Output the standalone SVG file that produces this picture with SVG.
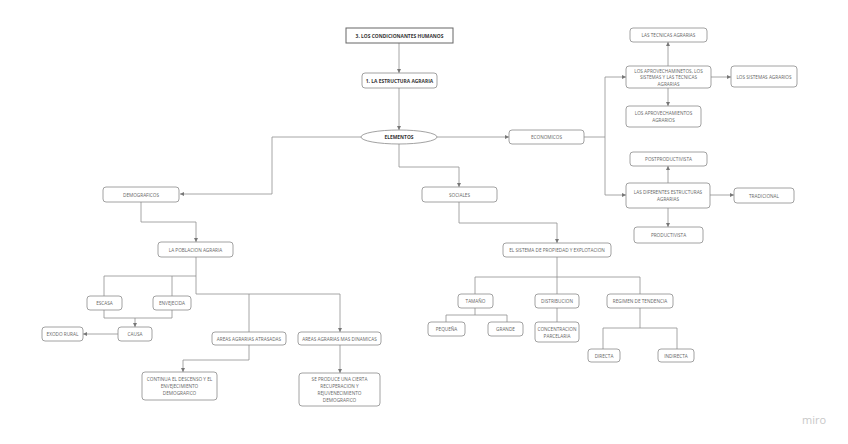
<svg xmlns="http://www.w3.org/2000/svg" width="848" height="444" viewBox="0 0 848 444">
<defs>
<marker id="arr" viewBox="0 0 6 6" refX="6" refY="3" markerWidth="4" markerHeight="4" orient="auto" markerUnits="userSpaceOnUse">
<path d="M0,0 L6,3 L0,6 z" fill="#777"/>
</marker>
</defs>
<style>
.bg{fill:#ffffff}
.box{fill:#ffffff;stroke:#8a8a8a;stroke-width:0.8}
.hbox{fill:#ffffff;stroke:#666;stroke-width:1}
.t{font-family:"Open Sans","Liberation Sans",sans-serif;font-size:4.7px;fill:#666;text-anchor:middle;dominant-baseline:central}
.b{font-family:"Open Sans","Liberation Sans",sans-serif;font-size:4.9px;font-weight:bold;fill:#333;text-anchor:middle;dominant-baseline:central}
.c{fill:none;stroke:#8f8f8f;stroke-width:0.8}
.a{marker-end:url(#arr)}
.logo{font-family:"Open Sans","Liberation Sans",sans-serif;font-size:11px;fill:#c8c8c8;text-anchor:middle}
</style>
<rect class="bg" x="0" y="0" width="848" height="444"/>
<g id="connectors">
<path class="c a" d="M399,43 V73"/>
<path class="c a" d="M399,88 V130"/>
<path class="c a" d="M361,137 H272 V194 H180"/>
<path class="c a" d="M437,137 H509"/>
<path class="c a" d="M399,144 V167 H459 V187"/>
<path class="c a" d="M584,137 H605 V77 H626"/>
<path class="c a" d="M605,137 V195 H626"/>
<path class="c a" d="M668,66 V42"/>
<path class="c a" d="M711,77 H731"/>
<path class="c a" d="M668,88 V106"/>
<path class="c a" d="M668,183 V166"/>
<path class="c a" d="M710,195 H734"/>
<path class="c a" d="M668,208 V227"/>
<path class="c a" d="M141,202 V222 H196 V242"/>
<path class="c a" d="M459,202 V223 H557 V243"/>
<path class="c" d="M557,257 V277 M475,294 V277 H640 V294 M557,277 V294"/>
<path class="c" d="M475,308 V315 M446,322 V315 H507 V322"/>
<path class="c" d="M557,308 V322"/>
<path class="c" d="M640,308 V328 M603,349 V328 H677 V349"/>
<path class="c" d="M196,257 V276 M104,296 V276 H196 M172,276 V296"/>
<path class="c a" d="M196,276 V294 H340 V332"/>
<path class="c a" d="M249,294 V360 H183 V372"/>
<path class="c" d="M104,310 V318 H172 V310"/>
<path class="c a" d="M135,318 V327"/>
<path class="c a" d="M118,334 H83"/>
<path class="c a" d="M340,345 V373"/>
</g>
<g id="n_condicionantes"><rect class="hbox" x="346" y="28" width="107" height="15"/><text class="b" x="399.5" y="35.5">3. LOS CONDICIONANTES HUMANOS</text></g>
<g id="n_estructura"><rect class="box" x="362" y="73" width="75" height="15" rx="3" stroke="#666"/><text class="b" x="399.5" y="80.5">1. LA ESTRUCTURA AGRARIA</text></g>
<g id="n_elementos"><ellipse class="box" cx="399" cy="137" rx="38" ry="7"/><text class="b" x="399" y="137">ELEMENTOS</text></g>
<g id="n_economicos"><rect class="box" x="509" y="130" width="75" height="14" rx="3"/><text class="t" x="546.5" y="137">ECONOMICOS</text></g>
<g id="n_aprov_sist_tec"><rect class="box" x="626" y="66" width="85" height="22" rx="3"/><text class="t" x="668.5" y="70.5">LOS APROVECHAMINETOS, LOS</text><text class="t" x="668.5" y="77">SISTEMAS Y LAS TECNICAS</text><text class="t" x="668.5" y="83.5">AGRARIAS</text></g>
<g id="n_tecnicas"><rect class="box" x="630" y="28" width="77" height="14" rx="3"/><text class="t" x="668.5" y="35">LAS TECNICAS AGRARIAS</text></g>
<g id="n_sistemas"><rect class="box" x="731" y="66" width="66" height="21" rx="3"/><text class="t" x="764" y="76.5">LOS SISTEMAS AGRARIOS</text></g>
<g id="n_aprovechamientos"><rect class="box" x="626" y="106" width="75" height="21" rx="3"/><text class="t" x="663.5" y="113">LOS APROVECHAMIENTOS</text><text class="t" x="663.5" y="120">AGRARIOS</text></g>
<g id="n_postproductivista"><rect class="box" x="630" y="152" width="77" height="14" rx="3"/><text class="t" x="668.5" y="159">POSTPRODUCTIVISTA</text></g>
<g id="n_estructuras"><rect class="box" x="626" y="183" width="84" height="25" rx="3"/><text class="t" x="668" y="192">LAS DIFERENTES ESTRUCTURAS</text><text class="t" x="668" y="199">AGRARIAS</text></g>
<g id="n_tradicional"><rect class="box" x="734" y="188" width="60" height="15" rx="3"/><text class="t" x="764" y="195.5">TRADICIONAL</text></g>
<g id="n_productivista"><rect class="box" x="634" y="227" width="69" height="16" rx="3"/><text class="t" x="668.5" y="235">PRODUCTIVISTA</text></g>
<g id="n_demograficos"><rect class="box" x="103" y="187" width="76" height="15" rx="3"/><text class="t" x="141" y="194.5">DEMOGRAFICOS</text></g>
<g id="n_poblacion"><rect class="box" x="158" y="242" width="75" height="15" rx="3"/><text class="t" x="195.5" y="249.5">LA POBLACION AGRARIA</text></g>
<g id="n_sociales"><rect class="box" x="422" y="187" width="75" height="15" rx="3"/><text class="t" x="459.5" y="194.5">SOCIALES</text></g>
<g id="n_sistema_prop"><rect class="box" x="503" y="243" width="108" height="14" rx="3"/><text class="t" x="557" y="250">EL SISTEMA DE PROPIEDAD Y EXPLOTACION</text></g>
<g id="n_tamano"><rect class="box" x="458" y="294" width="35" height="14" rx="3"/><text class="t" x="475.5" y="301">TAMAÑO</text></g>
<g id="n_distribucion"><rect class="box" x="535" y="294" width="44" height="14" rx="3"/><text class="t" x="557" y="301">DISTRIBUCION</text></g>
<g id="n_regimen"><rect class="box" x="607" y="294" width="66" height="14" rx="3"/><text class="t" x="640" y="301">REGIMEN DE TENDENCIA</text></g>
<g id="n_pequena"><rect class="box" x="428" y="322" width="37" height="14" rx="3"/><text class="t" x="446.5" y="329">PEQUEÑA</text></g>
<g id="n_grande"><rect class="box" x="488" y="322" width="35" height="14" rx="3"/><text class="t" x="505.5" y="329">GRANDE</text></g>
<g id="n_concentracion"><rect class="box" x="535" y="322" width="44" height="20" rx="3"/><text class="t" x="557" y="328.5">CONCENTRACION</text><text class="t" x="557" y="335.5">PARCELARIA</text></g>
<g id="n_directa"><rect class="box" x="588" y="349" width="32" height="13" rx="3"/><text class="t" x="604" y="355.5">DIRECTA</text></g>
<g id="n_indirecta"><rect class="box" x="658" y="349" width="36" height="13" rx="3"/><text class="t" x="676" y="355.5">INDIRECTA</text></g>
<g id="n_escasa"><rect class="box" x="87" y="296" width="35" height="14" rx="3"/><text class="t" x="104.5" y="303">ESCASA</text></g>
<g id="n_envejecida"><rect class="box" x="153" y="296" width="38" height="14" rx="3"/><text class="t" x="172" y="303">ENVEJECIDA</text></g>
<g id="n_causa"><rect class="box" x="118" y="327" width="34" height="14" rx="3"/><text class="t" x="135" y="334">CAUSA</text></g>
<g id="n_exodo"><rect class="box" x="42" y="327" width="41" height="14" rx="3"/><text class="t" x="62.5" y="334">EXODO RURAL</text></g>
<g id="n_atrasadas"><rect class="box" x="212" y="332" width="74" height="13" rx="3"/><text class="t" x="249" y="338.5">AREAS AGRARIAS ATRASADAS</text></g>
<g id="n_dinamicas"><rect class="box" x="298" y="332" width="83" height="13" rx="3"/><text class="t" x="339.5" y="338.5">AREAS AGRARIAS MAS DINAMICAS</text></g>
<g id="n_continua"><rect class="box" x="142" y="372" width="75" height="28" rx="3"/><text class="t" x="179.5" y="379">CONTINUA EL DESCENSO Y EL</text><text class="t" x="179.5" y="386">ENVEJECIMIENTO</text><text class="t" x="179.5" y="393">DEMOGRAFICO</text></g>
<g id="n_seproduce"><rect class="box" x="299" y="373" width="81" height="33" rx="3"/><text class="t" x="339.5" y="378.5">SE PRODUCE UNA CIERTA</text><text class="t" x="339.5" y="385.5">RECUPERACION Y</text><text class="t" x="339.5" y="392.5">REJUVENECIMIENTO</text><text class="t" x="339.5" y="399.5">DEMOGRAFICO</text></g>
<text class="logo" x="814" y="424">miro</text>
</svg>
